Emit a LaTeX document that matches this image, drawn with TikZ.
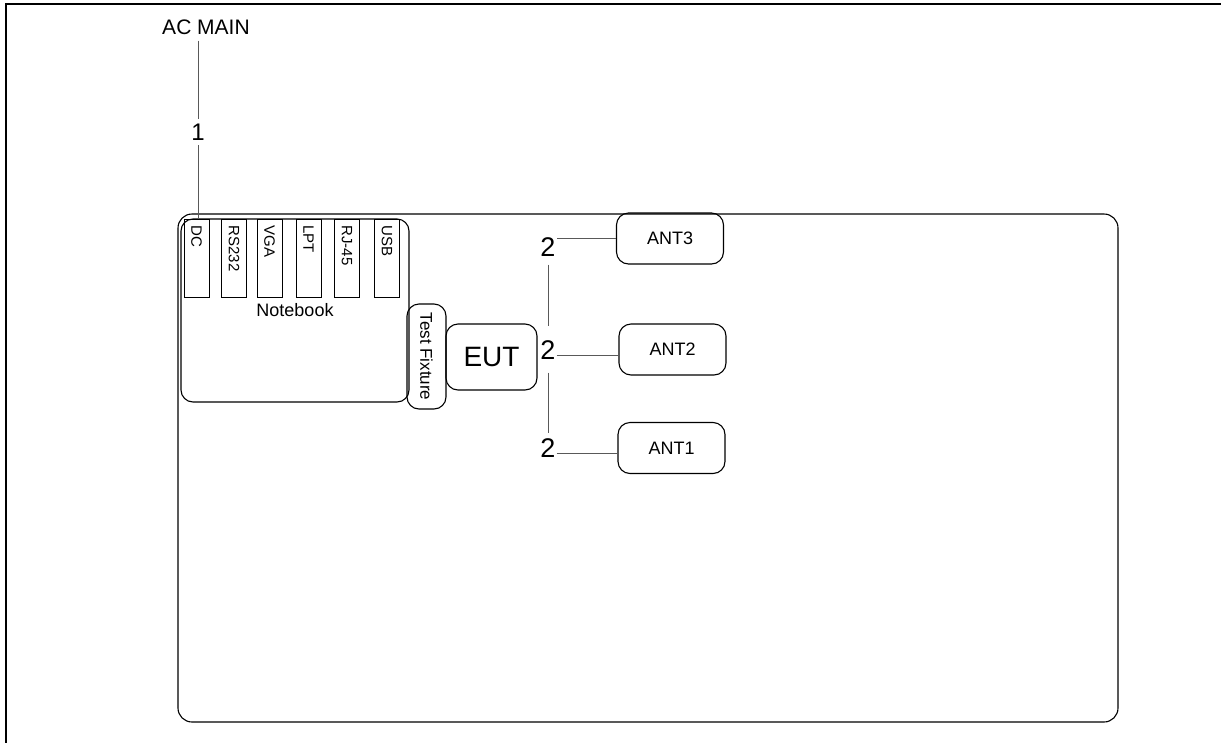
\documentclass[tikz,border=0pt]{standalone}
\usepackage{fontspec}
\setmainfont{Liberation Sans}
\usetikzlibrary{calc}
\begin{document}
\begin{tikzpicture}[x=1pt,y=-1pt,
 box/.style={draw,line width=1.1pt,rounded corners=12pt,inner sep=0pt},
 port/.style={draw,line width=1pt,rotate=-90,anchor=west,minimum height=25pt,text width=66pt,
  inner xsep=6pt,inner ysep=0pt,align=left,font=\fontsize{15}{15}\selectfont},
 wire/.style={draw,gray!70!black,line width=.8pt},
 lbl/.style={inner sep=1pt,font=\fontsize{27}{27}\selectfont},
 ant/.style={box,minimum width=107pt,minimum height=51pt,font=\fontsize{18}{18}\selectfont}]
 \useasboundingbox (0,0) rectangle (1221,742);
 \draw[line width=1.6pt] (1225,4)--(6,4)--(6,746);
 \draw[line width=1.1pt,rounded corners=14pt] (178,214) rectangle (1118,722);
 \node (acm) [lbl,font=\fontsize{21}{21}\selectfont] at (206,27) {AC MAIN};
 \node (one) [lbl,font=\fontsize{24}{24}\selectfont] at (198,132) {1};
 \node (nb) [box,minimum width=228pt,minimum height=183pt,font=\fontsize{18}{18}\selectfont] at (295,310.5) {Notebook};
 \node (dc) [port] at (196.5,219) {DC};
 \node (rs) [port] at (234,219) {RS232};
 \node (vga) [port] at (269.5,219) {VGA};
 \node (lpt) [port] at (308.5,219) {LPT};
 \node (rj) [port] at (347,219) {RJ-45};
 \node (usb) [port] at (387,219) {USB};
 \node (fix) [box,rotate=-90,minimum width=105pt,minimum height=39pt,font=\fontsize{17}{17}\selectfont] at (426.5,356.5) {Test Fixture};
 \node (eut) [box,minimum width=91pt,minimum height=66pt,font=\fontsize{28}{28}\selectfont] at (491.5,357) {EUT};
 \node (ant3) [ant] at (670,238.5) {ANT3};
 \node (ant2) [ant] at (672.5,349.5) {ANT2};
 \node (ant1) [ant] at (671.5,448) {ANT1};
 \node (two3) [lbl] at (548,247) {2};
 \node (two2) [lbl] at (548,350) {2};
 \node (two1) [lbl] at (548,448) {2};
 \draw[wire,shorten <=5pt,shorten >=4pt] (one |- acm.south) -- (one.north);
 \draw[wire,shorten <=4pt] (one.south) -- (one |- dc.west);
 \draw[wire] (ant3.west) -- (ant3.west -| two3.east);
 \draw[wire] ([yshift=-5pt]two2.east) -- ([yshift=-5pt]two2.east -| ant2.west);
 \draw[wire] ([yshift=-5pt]two1.east) -- ([yshift=-5pt]two1.east -| ant1.west);
 \draw[wire,shorten <=7pt,shorten >=13pt] (two3.south) -- (two2.north);
 \draw[wire,shorten <=12pt,shorten >=4pt] (two2.south) -- (two1.north);
\end{tikzpicture}
\end{document}
